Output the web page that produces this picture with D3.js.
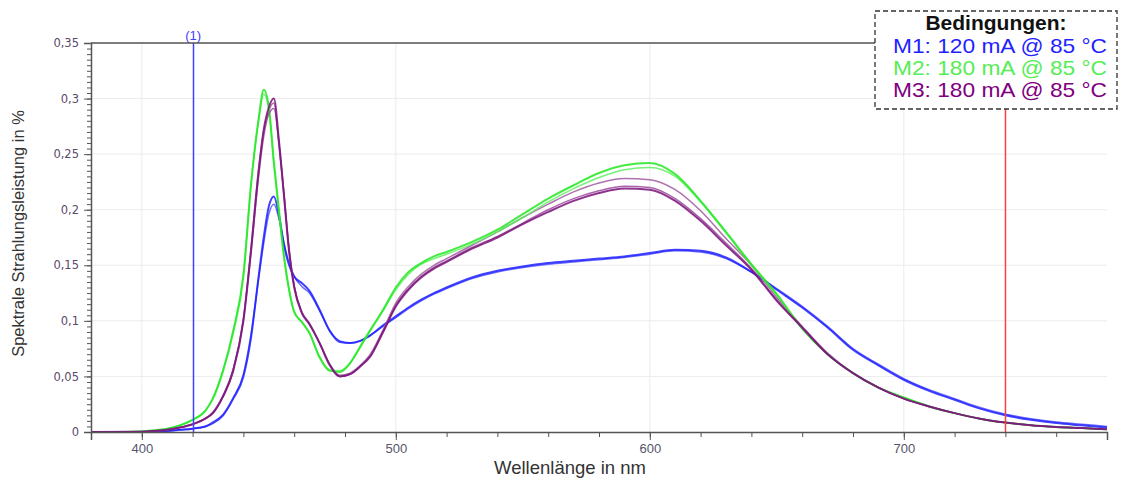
<!DOCTYPE html>
<html>
<head>
<meta charset="utf-8">
<script src="https://cdn.jsdelivr.net/npm/d3@7"></script>
<style>
  html, body { margin: 0; padding: 0; background: #fff; }
  svg { display: block; }
</style>
</head>
<body>
<svg id="chart"></svg>
<script>
// wavelength grid (nm), shared by all curves
const wl = [380,400,405,410,415,420,425,428,432,436,
            440,443,446,448,450,452,454,456,458,460,
            463,466,470,474,478,482,486,490,495,500,
            505,510,515,520,530,540,550,560,570,580,
            590,600,610,620,630,640,650,660,670,680,
            690,700,710,720,730,740,750,760,770,780];

// M1: 120 mA @ 85 °C (two measurements)
const m1a = [0,0.0002,0.0005,0.001,0.002,0.003,0.005,0.008,0.015,0.030,
             0.050,0.085,0.140,0.175,0.203,0.212,0.195,0.168,0.150,0.140,
             0.134,0.127,0.110,0.091,0.081,0.080,0.082,0.087,0.096,0.104,
             0.112,0.119,0.125,0.130,0.139,0.145,0.149,0.152,0.154,0.156,
             0.158,0.161,0.164,0.163,0.157,0.144,0.128,0.112,0.094,0.074,
             0.060,0.047,0.037,0.029,0.021,0.015,0.011,0.008,0.006,0.004];
const m1b = [0,0.0002,0.0005,0.001,0.002,0.003,0.005,0.009,0.016,0.031,
             0.052,0.088,0.138,0.170,0.196,0.205,0.192,0.170,0.152,0.140,
             0.131,0.125,0.109,0.091,0.082,0.080,0.082,0.087,0.095,0.103,
             0.111,0.118,0.124,0.129,0.138,0.144,0.148,0.151,0.153,0.155,
             0.157,0.160,0.163,0.162,0.156,0.144,0.129,0.113,0.095,0.075,
             0.061,0.048,0.038,0.030,0.022,0.016,0.012,0.009,0.007,0.005];

// M2: 180 mA @ 85 °C
const m2a = [0,0.0005,0.0015,0.003,0.006,0.011,0.019,0.030,0.055,0.090,
             0.140,0.222,0.282,0.308,0.293,0.243,0.200,0.158,0.128,0.108,
             0.099,0.089,0.067,0.055,0.054,0.062,0.077,0.092,0.110,0.130,
             0.144,0.152,0.158,0.162,0.171,0.182,0.196,0.210,0.222,0.233,
             0.240,0.242,0.232,0.208,0.180,0.151,0.124,0.093,0.070,0.053,
             0.040,0.031,0.023,0.017,0.012,0.0085,0.006,0.0045,0.0035,0.0025];
const m2b = [0,0.0005,0.0015,0.003,0.006,0.011,0.019,0.031,0.056,0.092,
             0.143,0.224,0.280,0.304,0.290,0.240,0.197,0.156,0.127,0.108,
             0.099,0.089,0.068,0.056,0.055,0.062,0.076,0.091,0.109,0.128,
             0.142,0.151,0.156,0.160,0.169,0.180,0.193,0.207,0.219,0.229,
             0.236,0.238,0.230,0.207,0.179,0.150,0.123,0.093,0.070,0.053,
             0.040,0.031,0.023,0.017,0.012,0.0085,0.006,0.0045,0.0035,0.0025];

// M3: 180 mA @ 85 °C
const m3a = [0,0.0003,0.001,0.002,0.004,0.007,0.012,0.017,0.032,0.055,
             0.100,0.163,0.235,0.272,0.292,0.300,0.262,0.212,0.162,0.130,
             0.107,0.097,0.080,0.060,0.050,0.052,0.059,0.068,0.090,0.113,
             0.128,0.139,0.147,0.153,0.165,0.175,0.187,0.198,0.208,0.215,
             0.219,0.218,0.208,0.190,0.168,0.146,0.118,0.094,0.070,0.053,
             0.040,0.030,0.023,0.017,0.012,0.0085,0.006,0.0045,0.0035,0.0025];
const m3b = [0,0.0003,0.001,0.002,0.004,0.007,0.012,0.018,0.033,0.057,
             0.102,0.166,0.236,0.270,0.289,0.296,0.258,0.214,0.165,0.132,
             0.108,0.098,0.080,0.061,0.051,0.053,0.060,0.070,0.092,0.116,
             0.131,0.142,0.150,0.156,0.168,0.180,0.193,0.205,0.216,0.224,
             0.228,0.227,0.218,0.199,0.174,0.150,0.121,0.095,0.071,0.053,
             0.040,0.030,0.023,0.017,0.012,0.0085,0.006,0.0045,0.0035,0.0025];
const m3c = [0,0.0003,0.001,0.002,0.004,0.007,0.012,0.017,0.032,0.056,
             0.101,0.162,0.230,0.266,0.286,0.291,0.260,0.213,0.163,0.131,
             0.108,0.097,0.080,0.061,0.050,0.052,0.059,0.069,0.090,0.114,
             0.129,0.140,0.148,0.154,0.166,0.176,0.188,0.200,0.210,0.217,
             0.221,0.220,0.210,0.192,0.170,0.147,0.119,0.094,0.070,0.053,
             0.040,0.030,0.023,0.017,0.012,0.0085,0.006,0.0045,0.0035,0.0025];

const yTicks = [0, 0.05, 0.1, 0.15, 0.2, 0.25, 0.3, 0.35];
const xTicks = [400, 500, 600, 700];
const markers = [{ wl: 420, color: "#4040ff", label: "(1)" }, { wl: 740, color: "#ff4040", label: "" }];
const legendTitle = "Bedingungen:";
const legendItems = [
  { text: "M1: 120 mA @ 85 °C", color: "#1f1fff" },
  { text: "M2: 180 mA @ 85 °C", color: "#55ee55" },
  { text: "M3: 180 mA @ 85 °C", color: "#800080" }
];

const curves = [
  { values: m1b, color: "#5050ff", width: 1.5 },
  { values: m1a, color: "#1f1fff", width: 2 },
  { values: m3b, color: "#a058a0", width: 1.5 },
  { values: m2b, color: "#5ef05e", width: 1.5 },
  { values: m2a, color: "#22e822", width: 2 },
  { values: m3c, color: "#9a4a9a", width: 1.5 },
  { values: m3a, color: "#7a107a", width: 2 }
];

const W = 1124, H = 483;
const margin = { top: 43, right: 17, bottom: 51, left: 91 };
const plotW = W - margin.left - margin.right,
      plotH = H - margin.top - margin.bottom;

const svg = d3.select("#chart").attr("width", W).attr("height", H);

const xScale = d3.scaleLinear().domain([380, 780]).range([0, plotW]);
const yScale = d3.scaleLinear().domain([0, 0.35]).range([plotH, 0]);

const de = d3.formatLocale({ decimal: ",", thousands: ".", grouping: [3], currency: ["", " €"] });
const fmt = de.format("~g");

const g = svg.append("g")
    .attr("transform", "translate(" + margin.left + "," + margin.top + ")");

// grid
g.append("g")
    .selectAll("line.hgrid")
    .data(yTicks.slice(1))
    .enter().append("line")
    .attr("x1", 0).attr("x2", plotW)
    .attr("y1", d => yScale(d)).attr("y2", d => yScale(d))
    .style("stroke", "#ececec");
g.append("g")
    .selectAll("line.vgrid")
    .data(xTicks)
    .enter().append("line")
    .attr("x1", d => xScale(d)).attr("x2", d => xScale(d))
    .attr("y1", 0).attr("y2", plotH)
    .style("stroke", "#ececec");

// curves
const line = d3.line()
    .x((d, i) => xScale(wl[i]))
    .y(d => yScale(d))
    .curve(d3.curveMonotoneX);

g.append("g")
    .selectAll("path")
    .data(curves)
    .enter().append("path")
    .attr("d", d => line(d.values))
    .style("fill", "none")
    .style("stroke", d => d.color)
    .style("stroke-width", d => d.width)
    .style("stroke-opacity", 0.85);

// marker lines
g.selectAll(".marker")
    .data(markers)
    .enter().append("line")
    .attr("class", "marker")
    .attr("x1", d => Math.round(xScale(d.wl)) + 0.5)
    .attr("x2", d => Math.round(xScale(d.wl)) + 0.5)
    .attr("y1", 0).attr("y2", plotH)
    .style("stroke", d => d.color)
    .style("stroke-width", 1.5);
g.selectAll(".markerLabel")
    .data(markers.filter(d => d.label))
    .enter().append("text")
    .attr("class", "markerLabel")
    .attr("x", d => xScale(d.wl) + 0.5)
    .attr("y", -3)
    .attr("text-anchor", "middle")
    .style("font-family", "'Liberation Sans Narrow', 'Liberation Sans', Arial, sans-serif")
    .style("font-size", "13px")
    .style("fill", d => d.color)
    .text(d => d.label);

// top frame line
g.append("line")
    .attr("x1", 0).attr("x2", plotW)
    .attr("y1", 0).attr("y2", 0)
    .style("stroke", "#555").style("stroke-width", 1.5);

// y axis, major + minor ticks
const yAxis = g.append("g")
    .call(d3.axisLeft(yScale).tickValues(yTicks).tickSize(7).tickPadding(5).tickFormat(fmt));
yAxis.select(".domain").style("stroke", "#555").style("stroke-width", 1.5);
yAxis.selectAll(".tick line").style("stroke", "#555");
yAxis.selectAll(".tick text")
    .style("font-family", "'DejaVu Sans', Verdana, sans-serif")
    .style("font-size", "11.5px")
    .style("fill", "#5b4a6a");
g.append("g")
    .call(d3.axisLeft(yScale).ticks(70).tickSize(4).tickFormat(""))
    .call(a => a.select(".domain").remove())
    .selectAll(".tick line").style("stroke", "#555");

// x axis, major + minor ticks
const xAxis = g.append("g")
    .attr("transform", "translate(0," + plotH + ")")
    .call(d3.axisBottom(xScale).tickValues(xTicks).tickSize(8).tickPadding(4).tickFormat(d3.format("d")));
xAxis.select(".domain").style("stroke", "#555").style("stroke-width", 1.5);
xAxis.selectAll(".tick line").style("stroke", "#555");
xAxis.selectAll(".tick text")
    .style("font-family", "'Liberation Sans Narrow', 'Liberation Sans', Arial, sans-serif")
    .style("font-size", "13px")
    .style("fill", "#55556a");
g.append("g")
    .attr("transform", "translate(0," + plotH + ")")
    .call(d3.axisBottom(xScale).ticks(20).tickSize(5).tickFormat(""))
    .call(a => a.select(".domain").remove())
    .selectAll(".tick line").style("stroke", "#555");

// axis titles
svg.append("text")
    .attr("transform", "translate(24," + (margin.top + plotH / 2 - 4) + ") rotate(-90)")
    .attr("text-anchor", "middle")
    .style("font-family", "'Liberation Sans', Arial, sans-serif")
    .style("font-size", "16.5px")
    .style("fill", "#333")
    .text("Spektrale Strahlungsleistung in %");
svg.append("text")
    .attr("x", 570)
    .attr("y", 474)
    .attr("text-anchor", "middle")
    .style("font-family", "'Liberation Sans', Arial, sans-serif")
    .style("font-size", "18.5px")
    .style("fill", "#333")
    .text("Wellenlänge in nm");

// legend box
const legend = svg.append("g").attr("transform", "translate(875,11)");
legend.append("rect")
    .attr("width", 242).attr("height", 98)
    .style("fill", "#fff")
    .style("stroke", "#333")
    .style("stroke-width", 1.3)
    .style("stroke-dasharray", "5,3");
legend.append("text")
    .attr("x", 121).attr("y", 19)
    .attr("text-anchor", "middle")
    .style("font-family", "'Liberation Sans', Arial, sans-serif")
    .style("font-size", "21px")
    .style("font-weight", "bold")
    .style("fill", "#111")
    .text(legendTitle);
legend.selectAll(".legendLabels")
    .data(legendItems)
    .enter().append("text")
    .attr("class", "legendLabels")
    .attr("x", 18)
    .attr("y", (d, i) => 42 + i * 22)
    .attr("textLength", 214)
    .attr("lengthAdjust", "spacingAndGlyphs")
    .style("font-family", "'Liberation Sans', Arial, sans-serif")
    .style("font-size", "21px")
    .style("fill", d => d.color)
    .text(d => d.text);
</script>
</body>
</html>
